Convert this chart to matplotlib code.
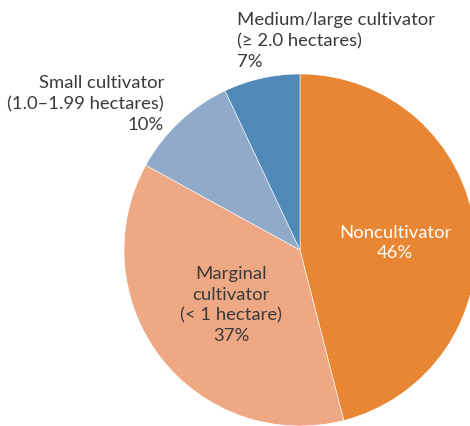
import matplotlib.pyplot as plt

categories = ["Noncultivator", "Marginal cultivator", "Small cultivator", "Medium/large cultivator"]
shares = [46, 37, 10, 7]
colors = ["#E88634", "#EEA984", "#90ABC9", "#5088B8"]

plt.rcParams['font.family'] = ['Lato', 'DejaVu Sans']

W, H = 470, 426
fig = plt.figure(figsize=(W / 100, H / 100), dpi=100)
ax = fig.add_axes([0, 0, 1, 1])

cx, cy, r = 300, H - 250, 176
ax.pie(shares, colors=colors, startangle=90, counterclock=False,
       center=(cx, cy), radius=r, frame=True,
       wedgeprops=dict(linewidth=0.4, edgecolor='white'))
ax.set_xlim(0, W)
ax.set_ylim(0, H)
ax.set_aspect('equal')
ax.axis('off')

txt = '#3a3a3a'
fs = 13.3
ls = 1.36
ax.text(395, H - 243, f"{categories[0]}\n{shares[0]}%", color='white',
        ha='center', va='center', fontsize=fs, linespacing=ls)
ax.text(231, H - 305, f"Marginal\ncultivator\n(< 1 hectare)\n{shares[1]}%", color=txt,
        ha='center', va='center', fontsize=fs, linespacing=ls)
ax.text(164, H - 104, f"Small cultivator\n(1.0–1.99 hectares)\n{shares[2]}%", color=txt,
        ha='right', va='center', fontsize=fs, linespacing=ls, multialignment='right')
ax.text(237, H - 41, f"Medium/large cultivator\n(≥ 2.0 hectares)\n{shares[3]}%", color=txt,
        ha='left', va='center', fontsize=fs, linespacing=ls)

fig.savefig('out.png', dpi=100)
